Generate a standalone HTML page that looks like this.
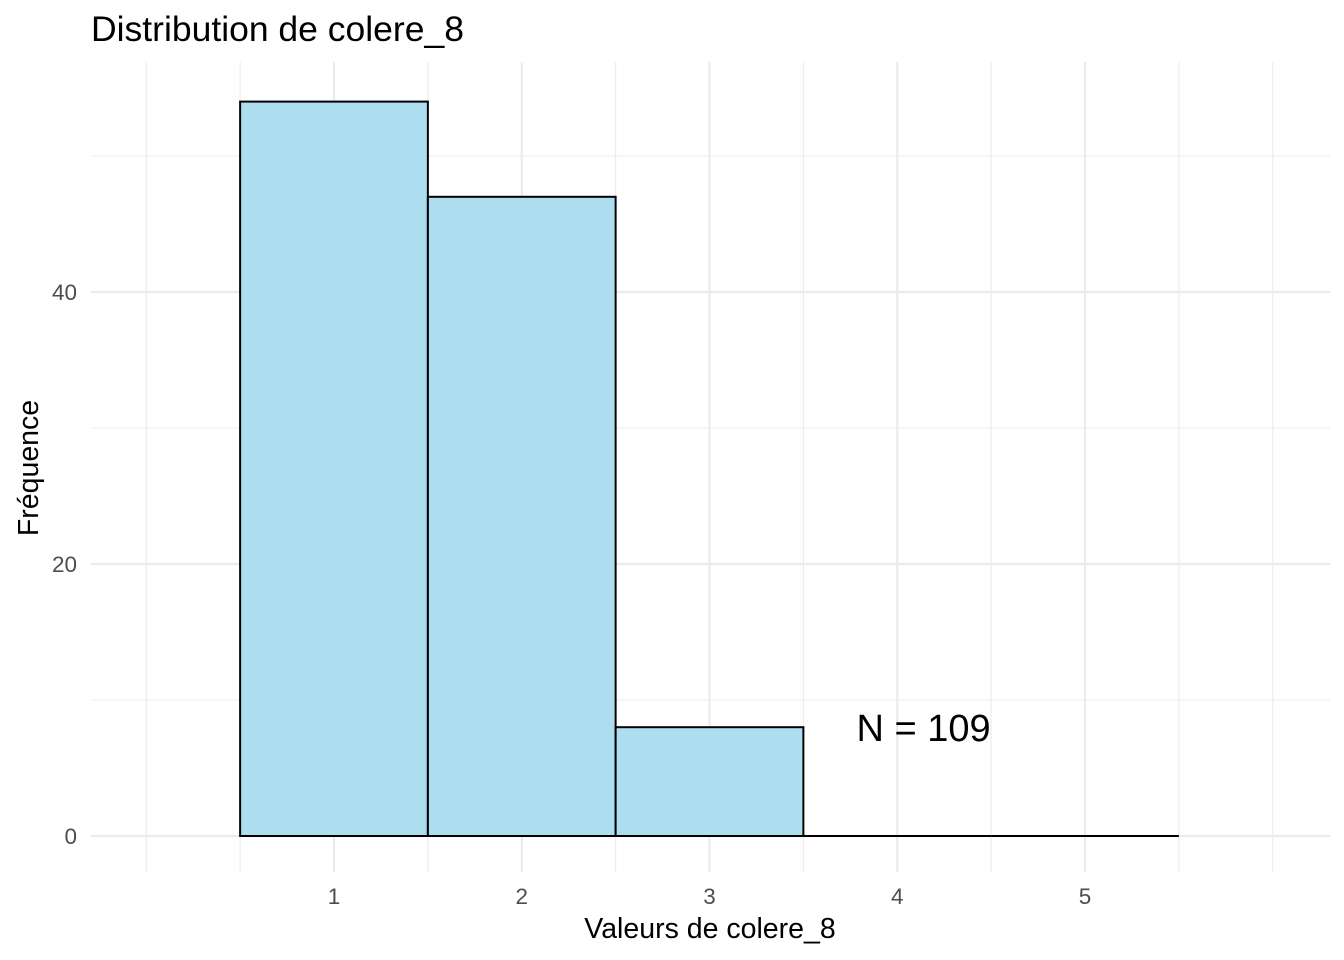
<!DOCTYPE html>
<html><head><meta charset="utf-8"><style>
body{margin:0;background:#fff;}
svg{display:block;font-family:"Liberation Sans",Arial,sans-serif;}
</style></head><body>
<svg id="chart" width="1344" height="960">
<text x="91" y="41" font-size="35.5" fill="#000">Distribution de colere_8</text>
<g id="grid"></g>
<g id="bars"></g>
<g id="ticks"></g>
<text x="710" y="938" font-size="28.5" text-anchor="middle" fill="#000">Valeurs de colere_8</text>
<text transform="translate(38,468) rotate(-90)" font-size="28.5" text-anchor="middle" fill="#000">Fréquence</text>
<text id="nlabel" font-size="38" text-anchor="middle" fill="#000">N = 109</text>
</svg>
<script>
const categories=[1,2,3,4,5];
const counts=[54,47,8,0,0];
const xTicks=[1,2,3,4,5];
const yTicks=[0,20,40];
const yMinor=[10,30,50];
const xMinor=[0,1.5,2.5,3.5,4.5,6];
const NS="http://www.w3.org/2000/svg";
const x=v=>334+(v-1)*187.75;
const y=v=>836-v*13.6;
const L=91,R=1330,T=62,B=872;
function mk(tag,attrs,parent){const e=document.createElementNS(NS,tag);for(const k in attrs)e.setAttribute(k,attrs[k]);parent.appendChild(e);return e;}
const g=document.getElementById('grid'),b=document.getElementById('bars'),t=document.getElementById('ticks');
[0.5,5.5].concat(xMinor).forEach(v=>{const l=mk('line',{x1:x(v),x2:x(v),y1:T,y2:B,stroke:'#ebebeb','stroke-width':1.1},g);

});
yMinor.forEach(v=>{const l=mk('line',{x1:L,x2:R,y1:y(v),y2:y(v),stroke:'#ebebeb','stroke-width':1.1},g);

});
xTicks.forEach(v=>{const l=mk('line',{x1:x(v),x2:x(v),y1:T,y2:B,stroke:'#ebebeb','stroke-width':2.2},g);


const tx=mk('text',{x:x(v),y:904,'font-size':22.5,'text-anchor':'middle',fill:'#4d4d4d'},t);tx.textContent=v;

});
yTicks.forEach(v=>{const l=mk('line',{x1:L,x2:R,y1:y(v),y2:y(v),stroke:'#ebebeb','stroke-width':2.2},g);


const tx=mk('text',{x:77,y:y(v)+8,'font-size':22.5,'text-anchor':'end',fill:'#4d4d4d'},t);tx.textContent=v;

});
categories.forEach((c,i)=>{const h=counts[i];
let r;
if(h>0){r=mk('rect',{x:x(c-0.5),y:y(h),width:x(c+0.5)-x(c-0.5),height:y(0)-y(h),fill:'#addef0',stroke:'#000','stroke-width':2},b);}
else{r=mk('line',{x1:x(c-0.5),x2:x(c+0.5),y1:y(0),y2:y(0),stroke:'#000','stroke-width':2},b);}

});
const n=document.getElementById('nlabel');n.setAttribute('x',x(4.14));n.setAttribute('y',y(8)+14);
</script>
</body></html>
